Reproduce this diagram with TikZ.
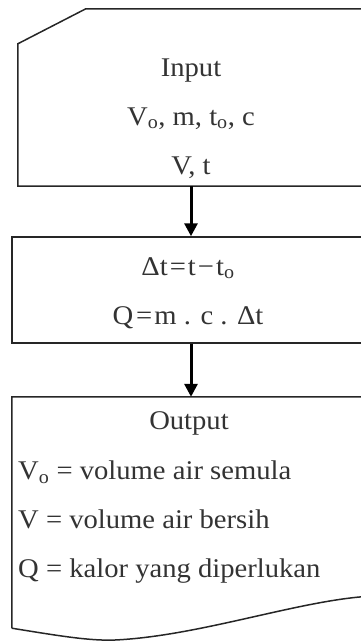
\documentclass[tikz,border=0pt]{standalone}
\usepackage{fontspec}
\setmainfont{Liberation Serif}[FakeStretch=1.06]
\usetikzlibrary{arrows.meta, positioning, calc}
\tikzset{
  frame/.style={draw=black!85, line width=1.5pt},
  blk/.style={rectangle, inner sep=0pt, minimum width=#1},
  boxtxt/.style={align=center, text=black!80, inner sep=0pt,
    font=\fontsize{27}{49}\selectfont},
  arr/.style={draw=black, line width=3pt, -{Triangle[width=13pt,length=13pt]}}
}
\begin{document}
\begin{tikzpicture}[x=1pt, y=1pt]
  \useasboundingbox (0,0) rectangle (361,-642);

  \node[blk=346pt, minimum height=177pt] (inp)  at (191,-97.5) {};
  \node[blk=358pt, minimum height=106pt, frame] (proc) at (191,-290) {};
  \node[blk=358pt, minimum height=231pt] (outp) at (191,-512.5) {};

  \draw[frame] (inp.south east) -- (inp.south west)
    -- ($(inp.north west)+(0,-35)$) -- ($(inp.north west)+(68,0)$)
    -- (inp.north east) -- cycle;
  \draw[frame] (outp.south west) -- (outp.north west) -- (outp.north east)
    -- ($(outp.south east)+(0,32)$)
    .. controls (300,-600) and (200,-636) .. (115,-640)
    .. controls (90,-641) and (60,-636) .. (outp.south west);

  \node[boxtxt] (inptxt) at ($(inp.center)+(0,-21)$)
    {Input\\V\textsubscript{o}, m, t\textsubscript{o}, c\\V, t};
  \node[boxtxt] (proctxt) at ($(proc.center)+(-3,-3)$)
    {Δt\kern2pt=\kern2pt t\kern2pt−\kern2pt t\textsubscript{o}\\Q\kern3pt=\kern2pt m . c . Δt};
  \node[boxtxt] (outhead) at (189,-423) {Output};
  \node[boxtxt, align=left, anchor=west] (outbody) at (18,-522)
    {V\textsubscript{o} = volume air semula\\V = volume air bersih\\Q = kalor yang diperlukan};

  \draw[arr] (inp) -- (proc);
  \draw[arr] (proc) -- (outp);
\end{tikzpicture}
\end{document}
